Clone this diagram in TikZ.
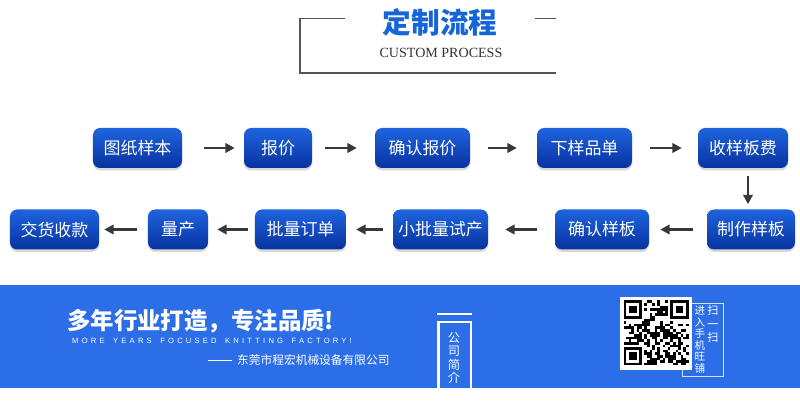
\documentclass[tikz,border=0pt]{standalone}
\usepackage{fontspec}
\setmainfont{Liberation Serif}
\newfontfamily\cjk{Noto Sans CJK SC}
\newfontfamily\spaced[LetterSpace=42, WordSpace=1.6]{Liberation Sans}
\usepackage{tikz}
\usetikzlibrary{arrows.meta, calc, shadows}

\definecolor{btntop}{RGB}{30,100,222}
\definecolor{btnbot}{RGB}{8,50,160}
\definecolor{titleblue}{RGB}{21,101,216}
\definecolor{bannerblue}{RGB}{44,110,232}
\definecolor{arrowgray}{RGB}{56,56,56}
\definecolor{framegray}{RGB}{85,85,85}

\begin{document}
\begin{tikzpicture}[
    x=0.03cm, y=-0.03cm,
    btn/.style={rectangle, rounded corners=6pt, top color=btntop, bottom color=btnbot, minimum width=#1, minimum height=1.2cm, inner sep=0pt, text=white, font=\cjk\fontsize{14.5}{16}\selectfont, drop shadow={shadow xshift=0pt, shadow yshift=-2pt, opacity=0.3}},
    flow/.style 2 args={draw=arrowgray, line width=2.4pt, -{Triangle[length=8pt, width=8pt]}, shorten <=#1, shorten >=#2},
    frame/.style={draw=framegray, line width=1pt},
    stack/.style={inner sep=0pt, align=center, text=white}
]
    \useasboundingbox (0,0) rectangle (800,402);
    \fill[white] (0,0) rectangle (800,402);

    % Title
    \node[text=titleblue, font=\cjk\bfseries\fontsize{24.5}{26}\selectfont] (title) at (440,22) {定制流程};
    \node[text=black!80, font=\fontsize{12}{14}\selectfont] (subtitle) at (441,53) {CUSTOM PROCESS};
    \draw[frame] (345,18.5) -- (300,18.5) -- (300,73) -- (556,73);
    \draw[frame] (535,18.5) -- (556,18.5);

    % Steps, first row
    \node[btn=2.67cm] (tuzhi) at (137.5,148) {图纸样本};
    \node[btn=2.04cm] (baojia) at (278,148) {报价};
    \node[btn=2.85cm] (queren) at (422.5,148) {确认报价};
    \node[btn=2.85cm] (xiayang) at (584.5,148) {下样品单};
    \node[btn=2.7cm] (shouyang) at (743,148) {收样板费};

    % Steps, second row
    \node[btn=2.67cm] (jiaohuo) at (54.5,229.5) {交货收款};
    \node[btn=1.8cm] (liangchan) at (178,229.5) {量产};
    \node[btn=2.73cm] (piliang) at (300.5,229.5) {批量订单};
    \node[btn=2.85cm] (shichan) at (440.5,229.5) {小批量试产};
    \node[btn=2.82cm] (queyang) at (602,229.5) {确认样板};
    \node[btn=2.64cm] (zhizuo) at (751,229.5) {制作样板};

    % Arrows
    \draw[flow={18.7pt}{7.7pt}] (tuzhi) -- (baojia);
    \draw[flow={11pt}{15.3pt}] (baojia) -- (queren);
    \draw[flow={15.3pt}{17pt}] (queren) -- (xiayang);
    \draw[flow={15.3pt}{13.6pt}] (xiayang) -- (shouyang);
    \draw[flow={6.8pt}{4.3pt}] ($(shouyang.south)+(5,0)$) -- ($(zhizuo.north)+(-3,0)$);
    \draw[flow={11.9pt}{9.4pt}] (zhizuo) -- (queyang);
    \draw[flow={15.3pt}{14.5pt}] (queyang) -- (shichan);
    \draw[flow={8.5pt}{8.5pt}] (shichan) -- (piliang);
    \draw[flow={6pt}{7.7pt}] (piliang) -- (liangchan);
    \draw[flow={9.4pt}{4.3pt}] (liangchan) -- (jiaohuo);

    % Banner
    \fill[bannerblue] (0,285) rectangle (800,388);
    \node[anchor=west, inner sep=0pt, text=white, font=\cjk\bfseries\fontsize{20}{22}\selectfont] (slogan) at (67,321) {多年行业打造，专注品质!};
    \node[anchor=west, inner sep=0pt, text=white, font=\spaced\fontsize{6.5}{7}\selectfont] (english) at (72,340.5) {MORE YEARS FOCUSED KNITTING FACTORY!};
    \node[anchor=west, inner sep=0pt, text=white, font=\cjk\fontsize{10}{12}\selectfont] (company) at (237,360) {东莞市程宏机械设备有限公司};
    \coordinate (dash) at (208,360);
    \draw[white, line width=0.7pt] (dash) -- (company.west -| 232,0);

    % Company intro tab
    \draw[white, line width=2.5pt] (437,314) -- (472,314);
    \draw[white, line width=2pt] (438.5,388) |- (471,322) -- (471,388);
    \node[stack, font=\cjk\fontsize{10.5}{11.5}\selectfont] (intro) at (454,358) {公\\司\\简\\介};

    % QR code
    \draw[white, opacity=0.8, line width=0.8pt] (682,303) rectangle (723,376);
    \fill[white] (620,297) rectangle (692,370);
    \pgfmathsetseed{7}
    \foreach \i in {0,...,24}{
        \foreach \j in {0,...,24}{
            \pgfmathrandominteger{\bit}{0}{1}
            \ifnum\bit=1 \fill[black] (623.5+\i*2.6,300.5+\j*2.6) rectangle ++(2.6,2.6);\fi
        }
    }
    \foreach \fx/\fy in {0/0,18/0,0/18}{
        \fill[white] (623.5+\fx*2.6-2.6,300.5+\fy*2.6-2.6) rectangle ++(8*2.6+2.6,8*2.6+2.6);
        \fill[black] (623.5+\fx*2.6,300.5+\fy*2.6) rectangle ++(7*2.6,7*2.6);
        \fill[white] (623.5+\fx*2.6+2.6,300.5+\fy*2.6+2.6) rectangle ++(5*2.6,5*2.6);
        \fill[black] (623.5+\fx*2.6+5.2,300.5+\fy*2.6+5.2) rectangle ++(3*2.6,3*2.6);
    }
    \fill[white] (620,297) rectangle (623.5,370);
    \node[stack, anchor=north, font=\cjk\fontsize{9.5}{11.5}\selectfont] (scan) at (713,305) {扫\\一\\扫};
    \node[stack, anchor=north, font=\cjk\fontsize{9}{9.8}\selectfont] (shop) at (700,306) {进\\入\\手\\机\\旺\\铺};
\end{tikzpicture}
\end{document}
